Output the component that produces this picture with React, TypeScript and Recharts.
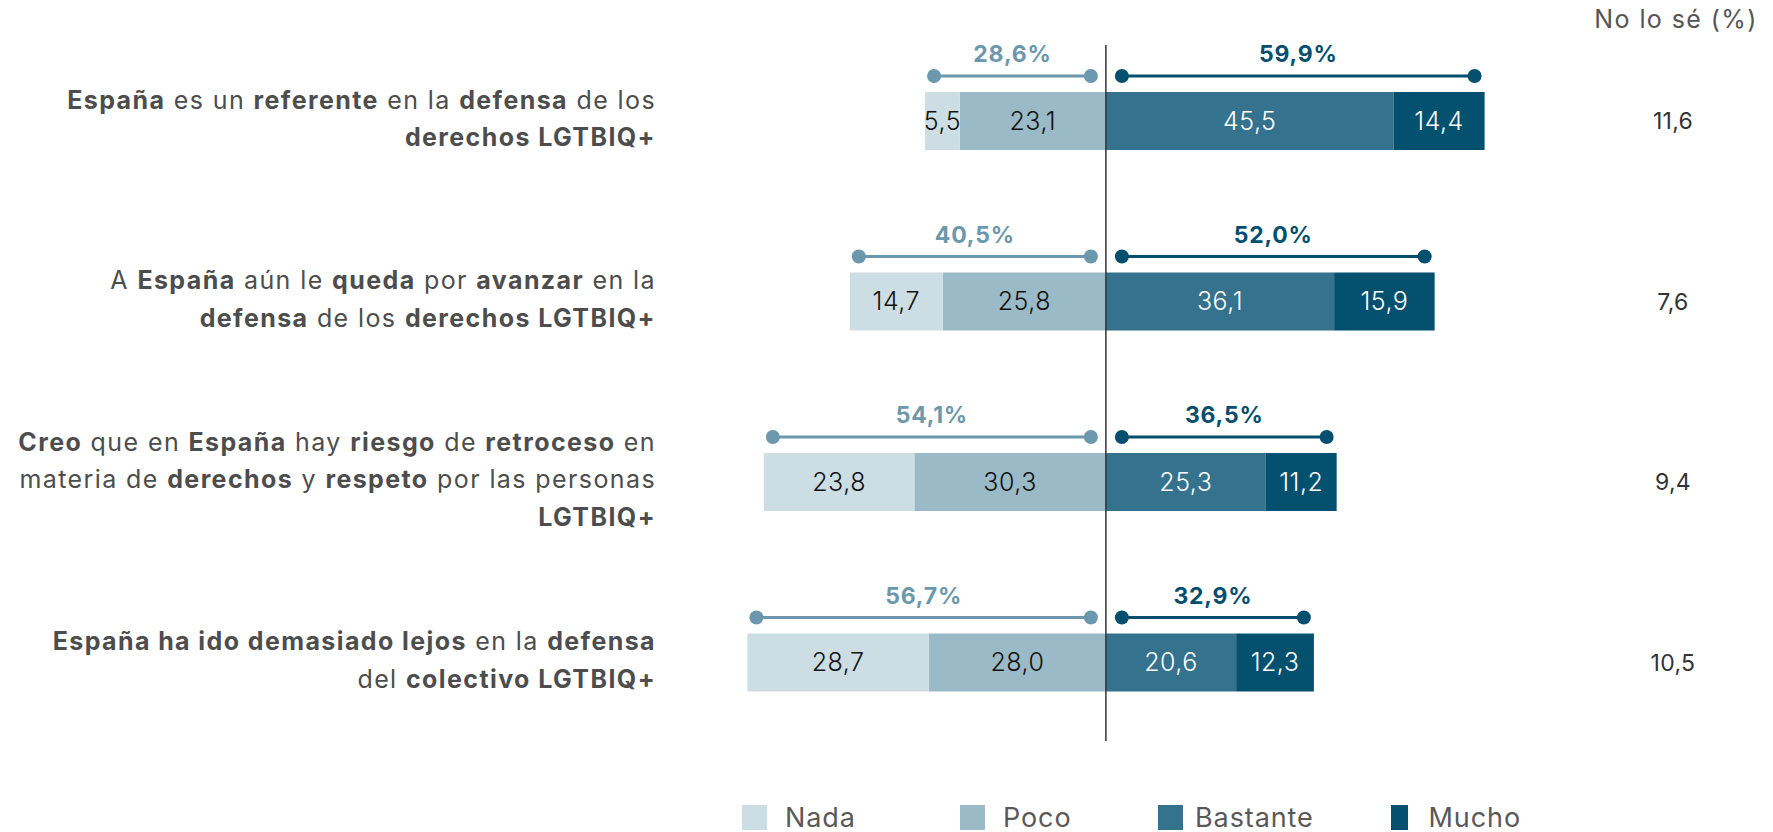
import React from 'react';
import { BarChart, Bar, XAxis, YAxis, ReferenceLine, LabelList, Legend } from 'recharts';

const categories = ['referente', 'avanzar', 'retroceso', 'lejos'];
const questionLines: string[][] = [
  ['**España** es un **referente** en la **defensa** de los', '**derechos LGTBIQ+**'],
  ['A **España** aún le **queda** por **avanzar** en la', '**defensa** de los **derechos LGTBIQ+**'],
  ['**Creo** que en **España** hay **riesgo** de **retroceso** en', 'materia de **derechos** y **respeto** por las personas', '**LGTBIQ+**'],
  ['**España ha ido demasiado lejos** en la **defensa**', 'del **colectivo LGTBIQ+**'],
];
const nada = [5.5, 14.7, 23.8, 28.7];
const poco = [23.1, 25.8, 30.3, 28.0];
const bastante = [45.5, 36.1, 25.3, 20.6];
const mucho = [14.4, 15.9, 11.2, 12.3];
const noLoSe = [11.6, 7.6, 9.4, 10.5];
const negTotals = [28.6, 40.5, 54.1, 56.7];
const posTotals = [59.9, 52.0, 36.5, 32.9];
const legendLabels = ['Nada', 'Poco', 'Bastante', 'Mucho'];
const noLoSeTitle = 'No lo sé (%)';

const COLORS = { nada: '#cddde4', poco: '#9bbac7', bastante: '#34728e', mucho: '#03506f' };
const legendColors = [COLORS.nada, COLORS.poco, COLORS.bastante, COLORS.mucho];
const LEFT_BRACKET = '#6b98ac';
const RIGHT_BRACKET = '#044f6e';
const FONT = 'Inter, "Open Sans", sans-serif';

const data = categories.map((c, i) => ({
  cat: c,
  nada: -nada[i],
  poco: -poco[i],
  bastante: bastante[i],
  mucho: mucho[i],
}));

const fmt = (v: any) => Math.abs(Number(v)).toFixed(1).replace('.', ',');

const parse = (line: string) =>
  line.split('**').map((t, i) => ({ text: t, bold: i % 2 === 1 })).filter((s) => s.text.length > 0);

const QuestionTick = (props: any) => {
  const { x, y, payload } = props;
  const i = categories.indexOf(payload.value);
  const lines = questionLines[i] || [];
  const lh = 37.5;
  const fs = 25;
  const n = lines.length;
  return (
    <text x={x} y={y} textAnchor="end" fontSize={fs} fill="#4d4d4d" fontFamily={FONT} letterSpacing={1.4}>
      {lines.map((line, li) => {
        const cy = y - 3 + (li - (n - 1) / 2) * lh;
        return (
          <tspan key={li} x={x} y={cy + fs * 0.36}>
            {parse(line).map((seg, si) => (
              <tspan key={si} fontWeight={seg.bold ? 700 : 400}>
                {seg.text}
              </tspan>
            ))}
          </tspan>
        );
      })}
    </text>
  );
};

const NoLoSeTick = (props: any) => {
  const { x, y, payload } = props;
  const i = categories.indexOf(payload.value);
  return (
    <text x={x + 55} y={y + 8} textAnchor="middle" fontSize={23} fill="#333" fontFamily={FONT} letterSpacing={0.3}>
      {fmt(noLoSe[i])}
    </text>
  );
};

const getBox = (props: any) => {
  const vb = props.viewBox && props.viewBox.x !== undefined ? props.viewBox : props;
  const x = Number(vb.x), y = Number(vb.y), w = Number(vb.width), h = Number(vb.height);
  return { left: Math.min(x, x + w), right: Math.max(x, x + w), top: Math.min(y, y + h) };
};

const Bracket = ({ x1, x2, y, color, label }: any) => (
  <g>
    <line x1={x1} x2={x2} y1={y} y2={y} stroke={color} strokeWidth={3} />
    <circle cx={x1} cy={y} r={7} fill={color} />
    <circle cx={x2} cy={y} r={7} fill={color} />
    <text x={(x1 + x2) / 2} y={y - 14} textAnchor="middle" fontSize={23} fontWeight={700} fill={color} fontFamily={FONT} letterSpacing={0.8}>
      {label}
    </text>
  </g>
);

const LeftBracket = (props: any) => {
  const i = props.index;
  const { left, right, top } = getBox(props);
  const ppu = (right - left) / poco[i];
  const zero = right;
  const end = zero - negTotals[i] * ppu;
  return <Bracket x1={end + 9} x2={zero - 15} y={top - 16} color={LEFT_BRACKET} label={fmt(negTotals[i]) + '%'} />;
};

const RightBracket = (props: any) => {
  const i = props.index;
  const { left, right, top } = getBox(props);
  const ppu = (right - left) / bastante[i];
  const zero = left;
  const end = zero + posTotals[i] * ppu;
  return <Bracket x1={zero + 16} x2={end - 10} y={top - 16} color={RIGHT_BRACKET} label={fmt(posTotals[i]) + '%'} />;
};

const CenterLine = (props: any) => {
  const { x1, x2, y1, y2 } = props;
  return <line x1={x1} x2={x2} y1={Math.min(y1, y2) + 14} y2={Math.max(y1, y2) - 12} stroke="#333" strokeWidth={1.5} />;
};

const legendWidths = [218, 198, 233, 130];
const legendGaps = [18, 18, 12, 21];

const LegendContent = () => (
  <div style={{ display: 'flex', paddingLeft: 742, fontFamily: FONT }}>
    {legendLabels.map((l, i) => (
      <div key={l} style={{ display: 'flex', alignItems: 'center', width: legendWidths[i] }}>
        <div style={{ width: 25, height: 25, background: legendColors[i], marginRight: legendGaps[i] }} />
        <span style={{ fontSize: 27, color: '#595959', letterSpacing: 0.9 }}>{l}</span>
      </div>
    ))}
  </div>
);

export default function App() {
  return (
    <div style={{ position: 'absolute', left: 0, top: 0, width: 1773, height: 832, background: '#fff', fontFamily: FONT }}>
      <div
        style={{
          position: 'absolute',
          left: 1581,
          top: 5,
          width: 190,
          textAlign: 'center',
          fontSize: 25,
          lineHeight: '29px',
          letterSpacing: 1.4,
          color: '#555',
          whiteSpace: 'nowrap',
        }}
      >
        {noLoSeTitle}
      </div>
      <BarChart
        width={1773}
        height={832}
        data={data}
        layout="vertical"
        stackOffset="sign"
        barSize={58}
        margin={{ top: 31, right: 0, bottom: 79, left: 0 }}
      >
        <XAxis type="number" domain={[-71, 81]} hide allowDataOverflow />
        <YAxis
          yAxisId="left"
          type="category"
          dataKey="cat"
          width={657}
          axisLine={false}
          tickLine={false}
          tickSize={0}
          tickMargin={1}
          interval={0}
          tick={<QuestionTick />}
        />
        <YAxis
          yAxisId="right"
          orientation="right"
          type="category"
          dataKey="cat"
          width={155}
          axisLine={false}
          tickLine={false}
          tickSize={0}
          tickMargin={0}
          interval={0}
          tick={<NoLoSeTick />}
        />
        <Bar yAxisId="left" dataKey="poco" stackId="s" fill={COLORS.poco} isAnimationActive={false}>
          <LabelList dataKey="poco" position="center" formatter={fmt} fill="#111" fontSize={25} fontWeight={300} letterSpacing={0.5} fontFamily={FONT} />
          <LabelList dataKey="poco" content={<LeftBracket />} />
        </Bar>
        <Bar yAxisId="left" dataKey="nada" stackId="s" fill={COLORS.nada} isAnimationActive={false}>
          <LabelList dataKey="nada" position="center" formatter={fmt} fill="#111" fontSize={25} fontWeight={300} letterSpacing={0.5} fontFamily={FONT} />
        </Bar>
        <Bar yAxisId="left" dataKey="bastante" stackId="s" fill={COLORS.bastante} isAnimationActive={false}>
          <LabelList dataKey="bastante" position="center" formatter={fmt} fill="#fff" fontSize={25} fontWeight={300} letterSpacing={0.5} fontFamily={FONT} />
          <LabelList dataKey="bastante" content={<RightBracket />} />
        </Bar>
        <Bar yAxisId="left" dataKey="mucho" stackId="s" fill={COLORS.mucho} isAnimationActive={false}>
          <LabelList dataKey="mucho" position="center" formatter={fmt} fill="#fff" fontSize={25} fontWeight={300} letterSpacing={0.5} fontFamily={FONT} />
        </Bar>
        <ReferenceLine yAxisId="left" x={0} shape={<CenterLine />} />
        <Legend
          layout="horizontal"
          verticalAlign="middle"
          align="center"
          wrapperStyle={{ top: 801, left: 0, width: 1773 }}
          content={<LegendContent />}
        />
      </BarChart>
    </div>
  );
}
